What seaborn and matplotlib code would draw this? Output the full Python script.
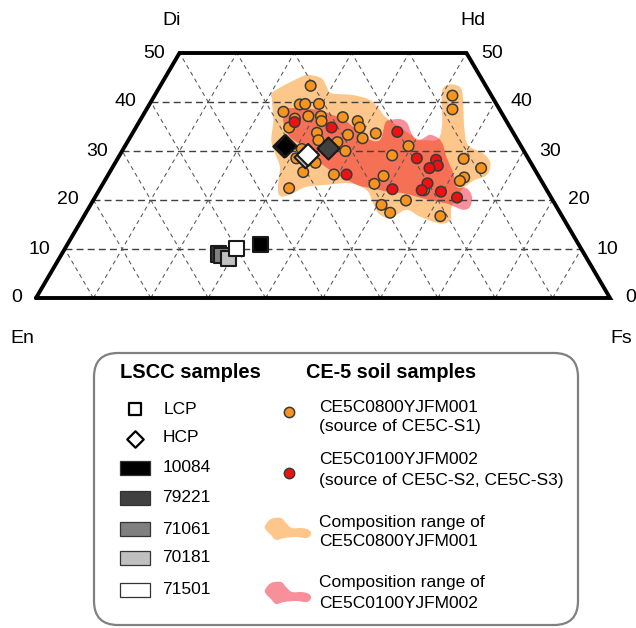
import numpy as np
import pandas as pd
import matplotlib
matplotlib.use("Agg")
import matplotlib.pyplot as plt
import seaborn as sns
from matplotlib.patches import FancyBboxPatch, Rectangle, Polygon

sns.set_theme(style="white")
plt.rcParams['font.family'] = ['Liberation Sans', 'DejaVu Sans']
plt.rcParams['text.color'] = 'black'

# ---- Pyroxene compositions (mol%), En = 100 - Wo - Fs ----
# CE-5 soil, CE5C0800YJFM001
orange_wo = [43.3, 39.5, 39.6, 39.6, 38.0, 37.1, 37.1, 36.1, 36.9, 36.1, 34.8, 34.8,
             36.6, 33.7, 32.2, 33.3, 32.6, 33.6, 31.8, 30.0, 30.4, 28.5, 27.6, 25.7,
             25.2, 22.4, 23.3, 24.9, 29.1, 31.0, 41.3, 38.5, 28.4, 26.5, 24.6, 23.9,
             19.9, 19.0, 17.4, 16.7, 22.0]
orange_fs = [26.2, 26.2, 27.1, 29.5, 24.1, 28.9, 31.1, 31.7, 35.0, 38.0, 39.0, 26.7,
             26.8, 32.1, 33.1, 37.7, 40.6, 42.4, 36.6, 38.9, 31.1, 31.1, 34.9, 33.7,
             39.3, 32.9, 47.3, 48.1, 47.5, 49.4, 51.9, 53.3, 60.3, 64.3, 62.3, 61.9,
             54.5, 50.7, 53.0, 62.1, 56.6]
# CE-5 soil, CE5C0100YJFM002
red_wo = [35.9, 34.8, 33.9, 25.2, 28.5, 28.2, 27.0, 26.5, 23.4, 22.0, 21.7, 20.5, 22.2]
red_fs = [27.1, 34.1, 46.0, 41.5, 52.1, 55.6, 56.5, 55.3, 56.5, 56.2, 59.7, 63.1, 51.0]

# LSCC samples: low-Ca (LCP) and high-Ca (HCP) pyroxene
lscc_samples = ["10084", "79221", "71061", "70181", "71501"]
lscc_colors = ["#000000", "#404040", "#808080", "#c0c0c0", "#ffffff"]
lcp_wo = [10.9, 9.0, 8.6, 8.1, 10.1]
lcp_fs = [33.6, 27.3, 28.1, 29.5, 29.9]
hcp_wo = [31.0, 30.5, 30.9, 28.7, 29.2]
hcp_fs = [28.0, 35.7, 27.8, 32.6, 32.8]
hcp_draw_order = ["71061", "10084", "79221", "70181", "71501"]

# Outlines of the composition ranges (Wo, Fs)
range1_wo = [42.1, 45.2, 45.5, 44.8, 43.1, 41.8, 41.4, 40.4, 38.4, 36.7, 32.6, 32.2,
             32.4, 35.3, 41.8, 43.4, 43.4, 41.8, 35.0, 31.2, 29.5, 27.5, 25.1, 23.9,
             21.6, 18.6, 15.9, 15.2, 16.6, 18.0, 16.6, 16.3, 17.3, 19.3, 22.0, 23.4,
             23.1, 22.7, 21.4, 20.7, 21.4, 24.1, 26.8, 29.5, 32.2, 36.3, 40.4]
range1_fs = [20.3, 23.7, 25.0, 27.4, 29.1, 30.6, 34.6, 38.0, 40.7, 42.8, 50.0, 51.9,
             53.8, 53.1, 49.8, 49.9, 51.6, 53.4, 57.1, 59.7, 63.2, 65.4, 66.0, 64.2,
             63.0, 63.1, 64.2, 62.8, 58.6, 55.6, 54.0, 53.0, 51.0, 49.1, 46.6, 43.0,
             39.1, 35.8, 34.1, 32.7, 31.5, 30.2, 29.1, 26.9, 24.9, 23.2, 20.9]
range2_wo = [38.4, 38.7, 38.4, 37.3, 36.0, 32.6, 32.2, 35.7, 36.3, 36.5, 35.7, 33.6,
             32.2, 32.6, 33.3, 32.6, 31.2, 28.8, 25.4, 22.7, 22.4, 20.7, 18.6, 18.0,
             18.6, 19.3, 20.0, 20.7, 21.4, 21.7, 22.4, 22.9, 24.5, 26.1, 28.2, 30.9,
             32.9, 35.7]
range2_fs = [24.2, 26.1, 29.7, 33.1, 36.1, 41.3, 43.8, 43.0, 43.5, 45.2, 46.8, 48.6,
             50.2, 51.2, 52.0, 53.8, 55.3, 57.1, 60.0, 61.9, 63.8, 65.6, 66.3, 65.5,
             63.7, 61.9, 58.6, 56.0, 53.3, 50.3, 47.6, 45.0, 41.3, 38.2, 34.8, 31.1,
             27.8, 25.3]

ORANGE_FILL = "#fdc78c"
PINK_FILL = "#f7909a"
OVERLAP_FILL = "#f57055"
EDGE = "#3a3a3a"


def to_xy(wo, fs):
    wo = np.asarray(wo, float)
    fs = np.asarray(fs, float)
    return fs + wo / 2.0, wo


def smooth_closed(x, y, n=16):
    pts = np.column_stack([x, y])
    m = len(pts)
    t = np.linspace(0, 1, n, endpoint=False)[:, None]
    segs = []
    for i in range(m):
        p0, p1, p2, p3 = pts[i - 1], pts[i], pts[(i + 1) % m], pts[(i + 2) % m]
        segs.append(0.5 * (2 * p1 + (-p0 + p2) * t
                           + (2 * p0 - 5 * p1 + 4 * p2 - p3) * t ** 2
                           + (-p0 + 3 * p1 - 3 * p2 + p3) * t ** 3))
    return np.vstack(segs)


fig = plt.figure(figsize=(6.36, 6.28), dpi=100)
ax = fig.add_axes([36 / 636, 330 / 628, 574 / 636, 245 / 628])
ax.set_xlim(0, 100)
ax.set_ylim(0, 50)
ax.axis("off")

# composition ranges
r1 = smooth_closed(*to_xy(range1_wo, range1_fs))
r2 = smooth_closed(*to_xy(range2_wo, range2_fs))
p1 = Polygon(r1, closed=True, fc=ORANGE_FILL, ec="none", zorder=1)
ax.add_patch(p1)
ax.add_patch(Polygon(r2, closed=True, fc=PINK_FILL, ec="none", zorder=1.1))
p3 = Polygon(r2, closed=True, fc=OVERLAP_FILL, ec="none", zorder=1.2)
ax.add_patch(p3)
p3.set_clip_path(p1)

# grid: Wo isolines and En / Fs isolines
for w in range(10, 50, 10):
    ax.plot([w / 2, 100 - w / 2], [w, w], color="#404040", lw=1.0,
            dashes=(5, 3), zorder=2)
for f in range(10, 100, 10):
    wtop = min(50, 100 - f)
    ax.plot([f, f + wtop / 2], [0, wtop], color="#555555", lw=0.75,
            dashes=(4, 3.5), zorder=2)
    ax.plot([100 - f, 100 - f - wtop / 2], [0, wtop], color="#555555", lw=0.75,
            dashes=(4, 3.5), zorder=2)

# outline of the quadrilateral
ax.plot([0, 100, 75, 25, 0], [0, 0, 50, 50, 0], color="black", lw=2.8,
        solid_joinstyle="miter", clip_on=False, zorder=6)

for w in range(0, 60, 10):
    ax.text(w / 2 - 2.5, w, str(w), ha="right", va="center", fontsize=14, clip_on=False)
    ax.text(100 - w / 2 + 2.6, w, str(w), ha="left", va="center", fontsize=14, clip_on=False)
for label, (xx, yy) in {"Di": (23.7, 56.7), "Hd": (76.1, 56.7),
                        "En": (-2.3, -8.2), "Fs": (101.9, -8.2)}.items():
    ax.text(xx, yy, label, ha="center", va="center", fontsize=14, clip_on=False)

# CE-5 soil pyroxenes
ox, oy = to_xy(orange_wo, orange_fs)
rx, ry = to_xy(red_wo, red_fs)
soil = pd.DataFrame({
    "x": np.concatenate([ox, rx]),
    "y": np.concatenate([oy, ry]),
    "sample": ["CE5C0800YJFM001"] * len(ox) + ["CE5C0100YJFM002"] * len(rx),
})
sns.scatterplot(data=soil, x="x", y="y", hue="sample",
                palette={"CE5C0800YJFM001": "#f7941d", "CE5C0100YJFM002": "#ee1111"},
                marker="o", s=58, edgecolor=EDGE, linewidth=1.1, legend=False,
                ax=ax, zorder=3, clip_on=False)

# LSCC pyroxenes
pal = dict(zip(lscc_samples, lscc_colors))
lx, ly = to_xy(lcp_wo, lcp_fs)
lcp = pd.DataFrame({"x": lx, "y": ly, "sample": lscc_samples})
sns.scatterplot(data=lcp, x="x", y="y", hue="sample", palette=pal, marker="s",
                s=120, edgecolor="#1a1a1a", linewidth=1.5, legend=False, ax=ax,
                zorder=4, clip_on=False)
hx, hy = to_xy(hcp_wo, hcp_fs)
hcp = pd.DataFrame({"x": hx, "y": hy, "sample": lscc_samples})
hcp = hcp.set_index("sample").loc[hcp_draw_order].reset_index()
sns.scatterplot(data=hcp, x="x", y="y", hue="sample", palette=pal, marker="D",
                s=125, edgecolor="#1a1a1a", linewidth=1.5, legend=False, ax=ax,
                zorder=4, clip_on=False)

# ---- legend panel (pixel layout) ----
lax = fig.add_axes([0, 0, 1, 1], zorder=-1)
lax.set_xlim(0, 636)
lax.set_ylim(628, 0)
lax.axis("off")
lax.add_patch(FancyBboxPatch((94, 353), 484, 272,
                             boxstyle="round,pad=0,rounding_size=24",
                             fc="white", ec="#808080", lw=1.6))
lax.text(120, 373, "LSCC samples", fontsize=14.5, fontweight="bold", va="center")
lax.text(306, 373, "CE-5 soil samples", fontsize=14.3, fontweight="bold", va="center")

lax.scatter([135], [409], marker="s", s=64, fc="white", ec="black", lw=1.6)
lax.text(164, 409, "LCP", fontsize=12.5, va="center")
lax.scatter([135], [439], marker="D", s=70, fc="white", ec="black", lw=1.6)
lax.text(163, 438, "HCP", fontsize=12.5, va="center")
for i, (name, col) in enumerate(zip(lscc_samples, lscc_colors)):
    cy = [468, 498, 529, 558, 589.5][i]
    lax.add_patch(Rectangle((119.5, cy - 7), 30, 14, fc=col, ec="#333333", lw=0.9))
    lax.text(162.5, cy, name, fontsize=12.5, va="center")

lax.scatter([289], [411.5], s=55, c="#f7941d", edgecolors=EDGE, linewidths=1.1)
lax.scatter([289], [472.5], s=55, c="#ee1111", edgecolors=EDGE, linewidths=1.1)

blob_dx = [-23, -17, -7, -2, 4, 14, 21, 23, 19, 8, -4, -12, -17, -22]
blob_dy = [-3, -10, -11, -6, -1, -1, 1, 5, 9, 8, 9, 11, 6, 1]
for cy, col in [(529, ORANGE_FILL), (593, PINK_FILL)]:
    b = smooth_closed(np.array(blob_dx) + 288.0, np.array(blob_dy) + cy, n=10)
    lax.add_patch(Polygon(b, closed=True, fc=col, ec="none"))

for y, s in [(407, "CE5C0800YJFM001"), (427, "(source of CE5C-S1)"),
             (460, "CE5C0100YJFM002"), (480, "(source of CE5C-S2, CE5C-S3)"),
             (522, "Composition range of"), (541, "CE5C0800YJFM001"),
             (583, "Composition range of"), (603, "CE5C0100YJFM002")]:
    lax.text(319, y, s, fontsize=12.5, va="center")

fig.savefig("out.png", dpi=100)
